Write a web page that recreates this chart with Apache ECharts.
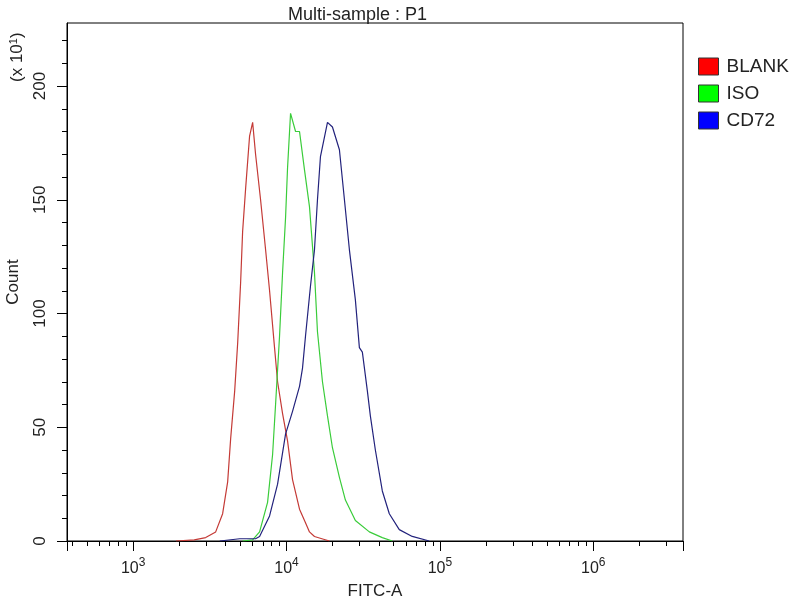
<!DOCTYPE html>
<html>
<head>
<meta charset="utf-8">
<script src="https://cdn.jsdelivr.net/npm/echarts@6/dist/echarts.min.js"></script>
<style>
  html, body { margin: 0; padding: 0; background: #fff; }
  #main { width: 800px; height: 600px; }
</style>
</head>
<body>
<div id="main"></div>
<script>
// FITC-A (x) / Count x10 (y)
var blankX = [1900, 2500, 2970, 3450, 3830, 4130, 4320, 4590, 4800, 5020, 5170, 5410, 5740, 6010, 6280, 6770, 7300, 7750, 8350, 8740, 9420, 10150, 10940, 12150, 13290, 14110, 15210, 17000, 19050];
var blankY = [0, 0.5, 1.5, 4, 12, 26, 45, 66, 87, 114, 136, 155, 178, 184, 170, 150, 128, 110, 85, 70, 56, 44, 27, 14, 8, 4, 2, 1, 0];

var isoX = [5170, 6010, 6670, 7520, 8110, 8480, 9000, 9420, 9850, 10150, 10620, 11450, 12150, 13100, 14110, 15210, 15910, 17150, 18490, 19920, 22120, 24200, 28110, 34670, 42130, 48940];
var isoY = [0, 0.5, 4, 17, 38, 60, 90, 118, 142, 164, 188, 180, 180, 163, 147, 118, 92, 70, 55, 41, 28, 18, 9, 4, 1.5, 0];

var cd72X = [3670, 4950, 6280, 6670, 7750, 8740, 9850, 10940, 12150, 12710, 13290, 14320, 15210, 15910, 16640, 18490, 19920, 22120, 23850, 25700, 28110, 29850, 31220, 33650, 35200, 37950, 42130, 46790, 54350, 66030, 85200];
var cd72Y = [0, 1, 1, 2, 11, 25, 47, 57, 68, 76, 90, 112, 128, 150, 169, 184, 182, 172, 150, 128, 106, 85, 83, 66, 55, 40, 22, 12, 5, 2, 0];

var seriesNames = ['BLANK', 'ISO', 'CD72'];
var xMajor = [371, 1e3, 1e4, 1e5, 1e6, 3.849e6];
var xLabels = [1e3, 1e4, 1e5, 1e6];
var xMinor = [400, 500, 600, 700, 800, 900,
  2e3, 3e3, 4e3, 5e3, 6e3, 7e3, 8e3, 9e3,
  2e4, 3e4, 4e4, 5e4, 6e4, 7e4, 8e4, 9e4,
  2e5, 3e5, 4e5, 5e5, 6e5, 7e5, 8e5, 9e5,
  2e6, 3e6];
var yMajor = [0, 50, 100, 150, 200];
var yMinor = [10, 20, 30, 40, 60, 70, 80, 90, 110, 120, 130, 140, 160, 170, 180, 190, 210, 220];

function pairs(xs, ys) {
  var out = [];
  for (var i = 0; i < xs.length; i++) out.push([xs[i], ys[i]]);
  return out;
}

var font = 'Liberation Sans, Arial, sans-serif';
var txt = '#222';
var xMin = 370, xMax = 3.85e6, yMax = 227.7;

var myChart = echarts.init(document.getElementById('main'));
var option = {
  backgroundColor: '#fff',
  animation: false,
  title: {
    text: 'Multi-sample : P1',
    left: 283,
    top: 1,
    textStyle: { fontFamily: font, fontSize: 18, fontWeight: 'normal', color: txt }
  },
  legend: {
    orient: 'vertical',
    left: 698,
    top: 57,
    padding: 0,
    itemWidth: 20,
    itemHeight: 17,
    itemGap: 8,
    icon: 'rect',
    textStyle: { fontFamily: font, fontSize: 19, color: txt, padding: [0, 0, 0, 3], lineHeight: 17 },
    data: [
      { name: 'BLANK', itemStyle: { color: '#ff0000', borderColor: '#333', borderWidth: 1 } },
      { name: 'ISO', itemStyle: { color: '#00ff00', borderColor: '#333', borderWidth: 1 } },
      { name: 'CD72', itemStyle: { color: '#0000ff', borderColor: '#333', borderWidth: 1 } }
    ]
  },
  grid: {
    left: 67, top: 23, right: 117, bottom: 59,
    outerBoundsMode: 'none',
    show: true, borderColor: '#000', borderWidth: 1
  },
  graphic: [{
    type: 'text',
    x: 8, y: 82,
    rotation: Math.PI / 2,
    style: {
      text: '(x 10{s|1})',
      fontFamily: font, fontSize: 17, fill: txt,
      rich: { s: { fontFamily: font, fontSize: 11, fill: txt, padding: [0, 0, 8, 0] } }
    }
  }],
  xAxis: [{
    type: 'log',
    min: xMin, max: xMax,
    position: 'bottom',
    name: 'FITC-A',
    nameLocation: 'middle',
    nameGap: 42,
    nameTextStyle: { fontFamily: font, fontSize: 17, color: txt },
    axisLine: { lineStyle: { color: '#000', width: 1 } },
    axisTick: { length: 10, customValues: xMajor, lineStyle: { color: '#000' } },
    axisLabel: {
      customValues: xLabels,
      margin: 16,
      fontFamily: font, fontSize: 16, color: txt,
      formatter: function (v) {
        return '10{s|' + Math.round(Math.log10(v)) + '}';
      },
      rich: { s: { fontFamily: font, fontSize: 12, color: txt, padding: [0, 0, 11, 0] } }
    },
    splitLine: { show: false }
  }, {
    type: 'log',
    min: xMin, max: xMax,
    position: 'bottom',
    offset: 0,
    axisLine: { show: false },
    axisTick: { length: 5, customValues: xMinor, lineStyle: { color: '#000' } },
    axisLabel: { show: false },
    splitLine: { show: false }
  }],
  yAxis: [{
    type: 'value',
    min: 0, max: yMax,
    position: 'left',
    name: 'Count',
    nameLocation: 'middle',
    nameGap: 45,
    nameRotate: 90,
    nameTextStyle: { fontFamily: font, fontSize: 17, color: txt },
    axisLine: { show: true, lineStyle: { color: '#000', width: 1 } },
    axisTick: { length: 10, customValues: yMajor, lineStyle: { color: '#000' } },
    axisLabel: {
      customValues: yMajor,
      rotate: 90,
      margin: 18,
      fontFamily: font, fontSize: 17, color: txt
    },
    splitLine: { show: false }
  }, {
    type: 'value',
    min: 0, max: yMax,
    position: 'left',
    offset: 0,
    axisLine: { show: false },
    axisTick: { show: true, length: 5, customValues: yMinor, lineStyle: { color: '#000' } },
    axisLabel: { show: false },
    splitLine: { show: false }
  }],
  series: [{
    name: seriesNames[0],
    type: 'line',
    showSymbol: false,
    data: pairs(blankX, blankY),
    itemStyle: { color: '#ff0000' },
    lineStyle: { color: '#c43a36', width: 1.2 }
  }, {
    name: seriesNames[1],
    type: 'line',
    showSymbol: false,
    data: pairs(isoX, isoY),
    itemStyle: { color: '#00ff00' },
    lineStyle: { color: '#3acc3a', width: 1.2 }
  }, {
    name: seriesNames[2],
    type: 'line',
    showSymbol: false,
    data: pairs(cd72X, cd72Y),
    itemStyle: { color: '#0000ff' },
    lineStyle: { color: '#22227c', width: 1.2 }
  }]
};
myChart.setOption(option);
</script>
</body>
</html>
